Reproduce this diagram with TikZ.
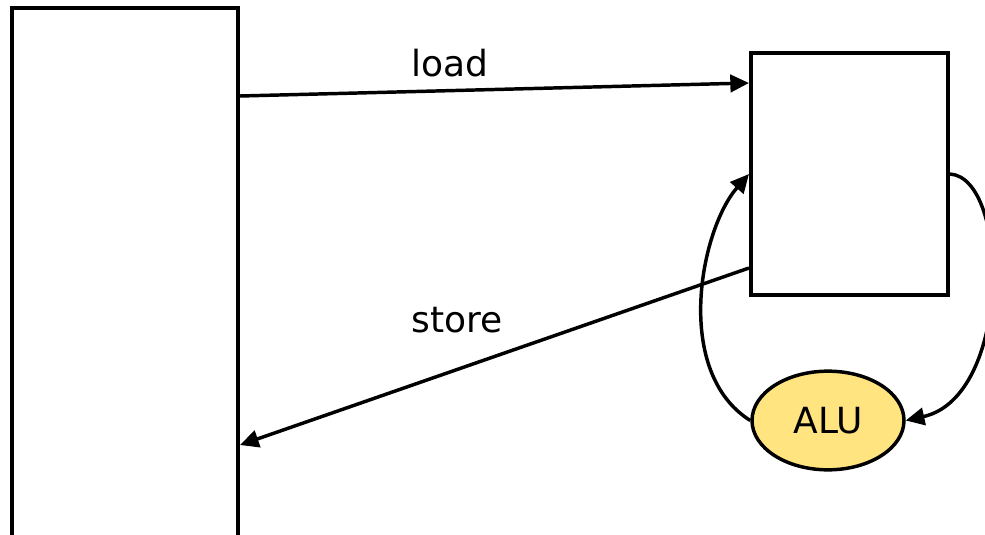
\documentclass[tikz,border=0pt]{standalone}
\usepackage{fontspec}
\setmainfont{DejaVu Sans}
\usetikzlibrary{arrows.meta,shapes.geometric}
\definecolor{aluyellow}{RGB}{255,228,128}
\tikzset{regfile/.style={x=0.75pt,y=-0.75pt,line width=2.6pt,font=\fontsize{27}{32}\selectfont,>={Triangle[length=14pt,width=13pt]}},
  box/.style={draw,rectangle,inner sep=0pt,line width=3pt},
  unit/.style={draw,ellipse,fill=aluyellow,inner sep=0pt,minimum width=114pt,minimum height=74pt}}

\begin{document}
\begin{tikzpicture}[regfile]
    % px grid, y runs down; the memory column runs off the bottom
    \useasboundingbox (0,0) rectangle (985,535);
    \clip (0,0) rectangle (985,535);
    \node[box,minimum width=169.5pt,minimum height=444pt] (mem) at (125,304) {};
    \node[box,minimum width=147.75pt,minimum height=181.5pt] (reg) at (849.5,174) {};
    \node[unit] (alu) at (828,420.5) {ALU};
    \node (loadlbl) at (450,63) {load};
    \node (storelbl) at (457,320) {store};
    \draw[->] ([shift={(0,90)}]mem.north east) -- ([shift={(0,32)}]reg.north west);
    \draw[->] ([shift={(0,-29)}]reg.south west) -- ([shift={(0,439)}]mem.north east);
    \draw[->] (alu.west) .. controls (673,372) and (700,230) .. (reg.west);
    \draw[->] (reg.east) .. controls (1010,178) and (1012,397) .. (alu.east);
\end{tikzpicture}
\end{document}
